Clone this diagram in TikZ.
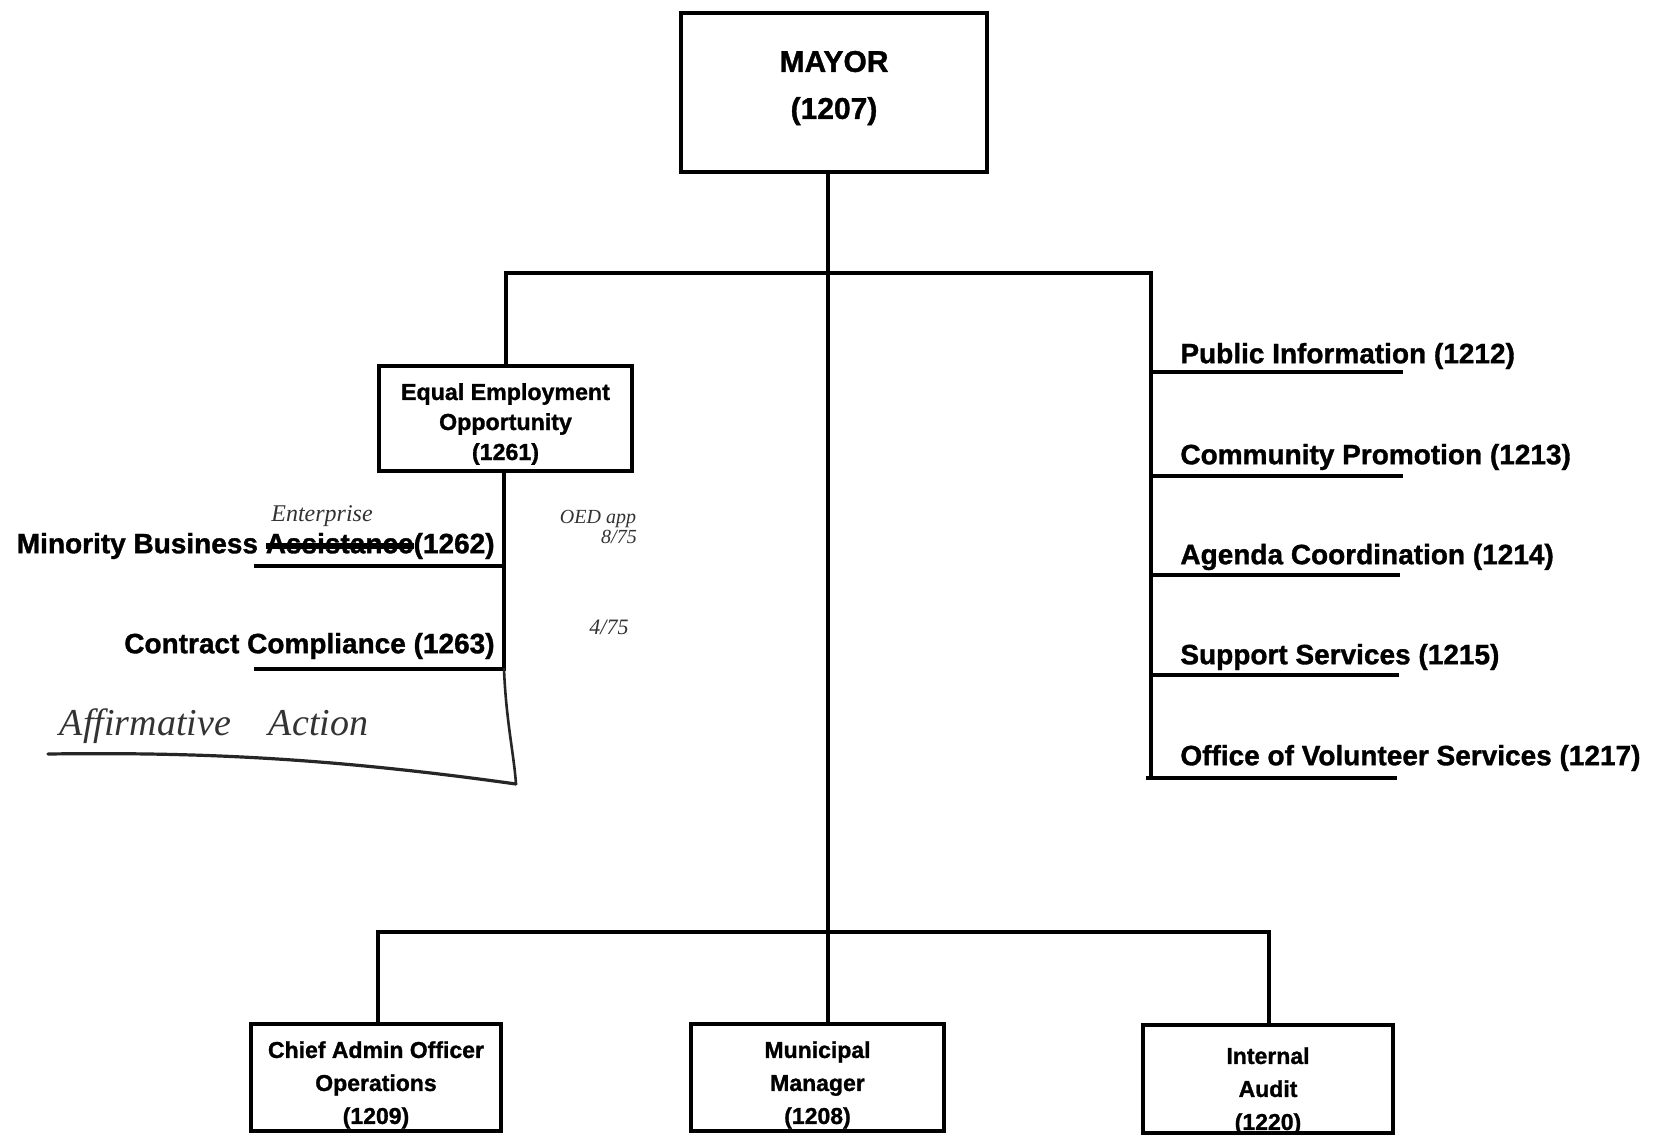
\documentclass[tikz,border=0pt]{standalone}
\usepackage{fontspec}
\setmainfont{Liberation Sans}[BoldFeatures={FakeBold=1.2}]
\newfontfamily\handfont{Liberation Serif}
% word crossed out with a heavy bar
\newcommand\struckword[1]{\setbox0\hbox{#1}\rlap{\rule[0.28ex]{\wd0}{0.42ex}}\box0}
\begin{document}
\begin{tikzpicture}[x=0.5pt,y=-0.5pt,
  wire/.style={line width=2.2pt,line cap=rect},
  uline/.style={line width=1.7pt},
  box/.style={draw,line width=2.2pt,fill=white,inner sep=0pt},
  bigtxt/.style={font=\bfseries\fontsize{15}{23.5}\selectfont,align=center,inner sep=0pt},
  eeotxt/.style={font=\bfseries\fontsize{11.6}{15}\selectfont,align=center},
  lowtxt/.style={font=\bfseries\fontsize{11.5}{16.5}\selectfont,align=center,inner sep=0pt},
  item/.style={font=\bfseries\fontsize{14}{16}\selectfont,inner sep=0pt},
  hand/.style={font=\handfont\itshape,text=black!80,inner sep=0pt},
  pen/.style={line width=1.3pt,black!85,line cap=round}]
\useasboundingbox[fill=white] (0,0) rectangle (1660,1139);

% ---- boxes ----
\node[box,minimum width=153pt,minimum height=79.5pt] (mayor) at (834,92.5) {};
\node[bigtxt] (mayortxt) at (834,88) {MAYOR\\(1207)};

\node[box,minimum width=126.5pt,minimum height=52.5pt] (eeo) at (505.5,418.5) {};
\node[eeotxt] (eeotext) at (505.5,424) {Equal Employment\\Opportunity\\(1261)};

\node[box,minimum width=125pt,minimum height=53.5pt] (cao) at (376,1077.5) {};
\node[box,minimum width=126.5pt,minimum height=53.5pt] (mm) at (817.5,1077.5) {};
\node[box,minimum width=125pt,minimum height=54pt] (ia) at (1268,1079) {};
\node[lowtxt] (caotxt) at (376,1085) {Chief Admin Officer\\Operations\\(1209)};
\node[lowtxt] (mmtxt) at (817.5,1085) {Municipal\\Manager\\(1208)};
\node[lowtxt] (iatxt) at (1268,1091) {Internal\\Audit\\(1220)};

% ---- junction points ----
\coordinate (top) at (828,273);
\coordinate (lt) at (506,273);
\coordinate (rt) at (1151,273);
\coordinate (rb) at (1151,778);
\coordinate (bj) at (828,932);
\coordinate (bl) at (378,932);
\coordinate (br) at (1269,932);
\coordinate (ccj) at (504,669);

% ---- main lines ----
\draw[wire] (mayor.south -| top) -- (bj);
\draw[wire] (lt) -- (rt);
\draw[wire] (lt) -- (lt |- eeo.north);
\draw[wire] (bl) -- (br);
\draw[wire] (bl) -- (bl |- cao.north);
\draw[wire] (bj) -- (bj |- mm.north);
\draw[wire] (br) -- (br |- ia.north);

% ---- staff offices on the right ----
\draw[wire] (rt) -- (rb);
\node[item,anchor=west] (pi) at (1180,356) {Public Information (1212)};
\node[item,anchor=west] (cp) at (1180,457) {Community Promotion (1213)};
\node[item,anchor=west] (ac) at (1180,557) {Agenda Coordination (1214)};
\node[item,anchor=west] (ss) at (1180,657) {Support Services (1215)};
\node[item,anchor=west] (ovs) at (1180,758) {Office of Volunteer Services (1217)};
\coordinate (pie) at (1403,372);
\coordinate (cpe) at (1403,476);
\coordinate (ace) at (1400,575);
\coordinate (sse) at (1399,675);
\coordinate (ovse) at (1397,778);
\draw[uline] (rt |- pie) -- (pie);
\draw[uline] (rt |- cpe) -- (cpe);
\draw[uline] (rt |- ace) -- (ace);
\draw[uline] (rt |- sse) -- (sse);
\draw[uline] (1146,778) -- (ovse);

% ---- units under EEO ----
\draw[wire] (eeo.south -| ccj) -- (ccj);
\node[item,anchor=east] (mba) at (495,546)
  {Minority Business \struckword{Assistance}(1262)};
\node[item,anchor=east] (cc) at (495,646) {Contract Compliance (1263)};
\coordinate (mbae) at (254,566);
\coordinate (cce) at (254,669);
\draw[uline] (mbae) -- (mbae -| ccj);
\draw[uline] (cce) -- (ccj);

% ---- pen annotations ----
\node[hand,font=\handfont\itshape\fontsize{12}{12}\selectfont] (ent) at (322,516) {Enterprise};
\node[hand,font=\handfont\itshape\fontsize{10}{10}\selectfont] (oed) at (598,519) {OED app};
\node[hand,font=\handfont\itshape\fontsize{10}{10}\selectfont] (d1) at (619,537) {8/75};
\node[hand,font=\handfont\itshape\fontsize{11}{11}\selectfont] (d2) at (609,627) {4/75};
\node[hand,font=\handfont\itshape\fontsize{19}{19}\selectfont] (aa) at (214,726) {Affirmative\quad Action};
\coordinate (aas) at (48,754);
\coordinate (aae) at (516,784);
\draw[pen] (ccj) .. controls (506,720) and (514,755) .. (aae);
\draw[pen,line width=1.6pt] (aas) .. controls (200,752) and (330,758) .. (aae);
\end{tikzpicture}
\end{document}
